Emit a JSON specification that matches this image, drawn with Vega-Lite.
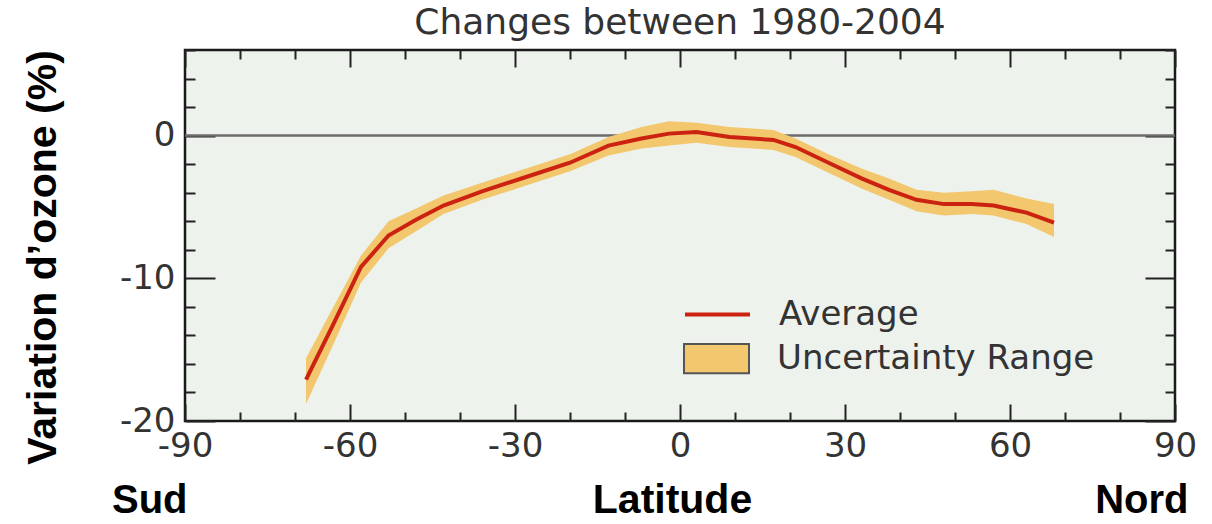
{
  "$schema": "https://vega.github.io/schema/vega-lite/v6.json",
  "width": 990,
  "height": 371,
  "autosize": {"type": "none"},
  "padding": {"left": 185, "top": 50, "right": 37, "bottom": 103},
  "background": "#ffffff",
  "title": {"text": "Changes between 1980-2004", "font": "DejaVu Sans", "fontSize": 36, "fontWeight": "normal", "color": "#333333", "anchor": "middle", "frame": "group", "baseline": "alphabetic", "offset": 14, "dy": 51},
  "data": {"values": [
    {"lat": -68, "avg": -17.1, "lo": -18.8, "hi": -15.6},
    {"lat": -63, "avg": -13.2, "lo": -14.6, "hi": -12.0},
    {"lat": -58, "avg": -9.2, "lo": -10.3, "hi": -8.4},
    {"lat": -53, "avg": -7.0, "lo": -7.9, "hi": -6.0},
    {"lat": -48, "avg": -5.9, "lo": -6.7, "hi": -5.1},
    {"lat": -43, "avg": -4.9, "lo": -5.5, "hi": -4.2},
    {"lat": -36, "avg": -3.9, "lo": -4.5, "hi": -3.3},
    {"lat": -28, "avg": -2.9, "lo": -3.5, "hi": -2.3},
    {"lat": -20, "avg": -1.9, "lo": -2.5, "hi": -1.3},
    {"lat": -13, "avg": -0.7, "lo": -1.4, "hi": -0.1},
    {"lat": -7, "avg": -0.2, "lo": -0.9, "hi": 0.6},
    {"lat": -2, "avg": 0.14, "lo": -0.7, "hi": 1.0},
    {"lat": 3, "avg": 0.25, "lo": -0.5, "hi": 0.9},
    {"lat": 9, "avg": -0.1, "lo": -0.8, "hi": 0.6},
    {"lat": 17, "avg": -0.3, "lo": -1.0, "hi": 0.4},
    {"lat": 21, "avg": -0.8, "lo": -1.5, "hi": -0.2},
    {"lat": 27, "avg": -1.9, "lo": -2.6, "hi": -1.3},
    {"lat": 33, "avg": -3.0, "lo": -3.7, "hi": -2.3},
    {"lat": 38, "avg": -3.8, "lo": -4.5, "hi": -3.0},
    {"lat": 43, "avg": -4.5, "lo": -5.3, "hi": -3.8},
    {"lat": 48, "avg": -4.8, "lo": -5.6, "hi": -4.0},
    {"lat": 53, "avg": -4.8, "lo": -5.5, "hi": -3.9},
    {"lat": 57, "avg": -4.9, "lo": -5.6, "hi": -3.8},
    {"lat": 63, "avg": -5.4, "lo": -6.2, "hi": -4.4},
    {"lat": 68, "avg": -6.1, "lo": -7.1, "hi": -4.8}
  ]},
  "layer": [
    {
      "data": {"values": [{}]},
      "mark": {"type": "rule", "color": "#6b6b6b", "strokeWidth": 2.5},
      "encoding": {
        "y": {"datum": 0, "type": "quantitative", "scale": {"domain": [-20, 6], "nice": false, "zero": false}, "axis": null},
        "x": {"datum": -90, "type": "quantitative", "scale": {"domain": [-90, 90], "nice": false, "zero": false},
          "axis": {"orient": "bottom", "values": [-90, 90], "labelExpr": "datum.value < 0 ? 'Sud' : 'Nord'", "ticks": false, "domain": false, "grid": false,
            "labelFont": "Liberation Sans", "labelFontWeight": "bold", "labelFontSize": 40, "labelColor": "#000000", "labelAlign": "right", "labelBaseline": "alphabetic",
            "labelPadding": 91, "labelOffset": {"condition": {"test": "datum.value > 0", "value": 13}, "value": 2}, "labelFlush": false, "labelOverlap": false, "labelBound": false,
            "title": "Latitude", "titleFont": "Liberation Sans", "titleFontWeight": "bold", "titleFontSize": 41, "titleColor": "#000000", "titleX": 487, "titleY": 91, "titleBaseline": "alphabetic", "titleAlign": "center"}},
        "x2": {"datum": 90}
      }
    },
    {
      "mark": {"type": "area"},
      "encoding": {
        "x": {"field": "lat", "type": "quantitative", "scale": {"domain": [-90, 90], "nice": false, "zero": false},
          "axis": {"orient": "bottom", "values": [-90, -80, -70, -60, -50, -40, -30, -20, -10, 0, 10, 20, 30, 40, 50, 60, 70, 80, 90],
            "labelExpr": "datum.value % 30 === 0 ? '' + datum.value : ''",
            "tickSize": {"condition": {"test": "datum.value % 30 === 0", "value": -17}, "value": -9},
            "tickColor": "#222222", "tickWidth": 2, "domain": false, "grid": false,
            "labelFont": "DejaVu Sans", "labelFontSize": 34, "labelColor": "#333333", "labelPadding": 25, "labelBaseline": "top",
            "labelFlush": false, "labelOverlap": false, "labelBound": false, "title": null}},
        "y": {"field": "lo", "type": "quantitative", "scale": {"domain": [-20, 6], "nice": false, "zero": false},
          "axis": {"orient": "left", "values": [-20, -18, -16, -14, -12, -10, -8, -6, -4, -2, 0, 2, 4, 6],
            "labelExpr": "datum.value % 10 === 0 ? '' + datum.value : ''",
            "tickSize": {"condition": {"test": "datum.value % 10 === 0", "value": -30}, "value": -10},
            "tickColor": "#222222", "tickWidth": 2, "domain": false, "grid": false,
            "labelFont": "DejaVu Sans", "labelFontSize": 34, "labelColor": "#333333", "labelPadding": 40,
            "labelFlush": false, "labelOverlap": false, "labelBound": false,
            "title": "Variation d’ozone (%)", "titleFont": "Liberation Sans", "titleFontWeight": "bold", "titleFontSize": 41, "titleColor": "#000000",
            "titleAngle": -90, "titleX": -130, "titleY": 207, "titleBaseline": "alphabetic", "titleAlign": "center"}},
        "y2": {"field": "hi"},
        "fill": {"datum": "Uncertainty Range", "type": "nominal", "scale": {"range": ["#f2c76e"]},
          "legend": {"orient": "none", "legendX": 498, "legendY": 275, "title": null, "padding": 0,
            "symbolType": "M-1,-0.45L1,-0.45L1,0.45L-1,0.45Z", "symbolSize": 4225, "symbolStrokeColor": "#555555", "symbolStrokeWidth": 2, "symbolOpacity": 1,
            "labelFont": "DejaVu Sans", "labelFontSize": 34, "labelColor": "#333333", "labelOffset": 27, "labelLimit": 0}}
      }
    },
    {
      "mark": {"type": "line", "strokeWidth": 4},
      "encoding": {
        "x": {"field": "lat", "type": "quantitative", "scale": {"domain": [-90, 90], "nice": false, "zero": false},
          "axis": {"orient": "top", "values": [-90, -80, -70, -60, -50, -40, -30, -20, -10, 0, 10, 20, 30, 40, 50, 60, 70, 80, 90],
            "labels": false, "domain": false, "grid": false, "title": null,
            "tickSize": {"condition": {"test": "datum.value % 30 === 0", "value": -17}, "value": -9},
            "tickColor": "#222222", "tickWidth": 2}},
        "y": {"field": "avg", "type": "quantitative", "scale": {"domain": [-20, 6], "nice": false, "zero": false},
          "axis": {"orient": "right", "values": [-20, -18, -16, -14, -12, -10, -8, -6, -4, -2, 0, 2, 4, 6],
            "labels": false, "domain": false, "grid": false, "title": null,
            "tickSize": {"condition": {"test": "datum.value % 10 === 0", "value": -30}, "value": -10},
            "tickColor": "#222222", "tickWidth": 2}},
        "stroke": {"datum": "Average", "type": "nominal", "scale": {"range": ["#cc2211"]},
          "legend": {"orient": "none", "legendX": 498, "legendY": 230, "title": null, "padding": 0,
            "symbolType": "stroke", "symbolSize": 4225, "symbolStrokeWidth": 4,
            "labelFont": "DejaVu Sans", "labelFontSize": 34, "labelColor": "#333333", "labelOffset": 27, "labelLimit": 0}}
      }
    }
  ],
  "resolve": {"axis": {"x": "independent", "y": "independent"}},
  "config": {
    "view": {"fill": "#eef2ec", "stroke": "#1a1a1a", "strokeWidth": 2.5},
    "axis": {"grid": false}
  }
}
